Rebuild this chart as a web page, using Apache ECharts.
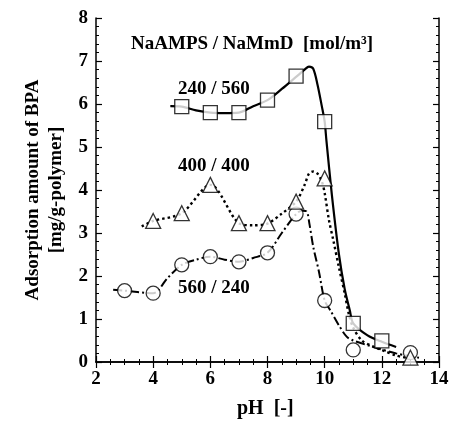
<!DOCTYPE html>
<html>
<head>
<meta charset="utf-8">
<script src="https://cdn.jsdelivr.net/npm/echarts@6/dist/echarts.min.js"></script>
<style>
html,body{margin:0;padding:0;background:#fff;}
#chart{width:454px;height:423px;}
</style>
</head>
<body>
<div id="chart"></div>
<script>
// Measured markers
var squarePts = [[5,5.94],[6,5.80],[7,5.80],[8,6.09],[9,6.65],[10,5.59],[11,0.90],[12,0.49]];
var trianglePts = [[4,3.28],[5,3.46],[6,4.12],[7,3.23],[8,3.23],[9,3.73],[10,4.27],[13,0.10]];
var circlePts = [[3,1.66],[4,1.60],[5,2.26],[6,2.45],[7,2.33],[8,2.54],[9,3.44],[10,1.43],[11,0.28],[13,0.22]];
// Curves
var squareCurve = [[4.6,5.95],[5,5.94],[5.5,5.85],[6,5.80],[6.5,5.79],[7,5.80],[7.5,5.95],[8,6.09],[8.5,6.35],[9,6.63],[9.3,6.8],[9.45,6.87],[9.6,6.82],[9.75,6.45],[9.9,5.95],[10,5.59],[10.06,5.16],[10.25,3.9],[10.5,2.5],[10.7,1.7],[10.88,1.2],[11,0.9],[11.5,0.62],[12,0.47],[12.5,0.35]];
var triangleCurve = [[3.6,3.15],[4,3.28],[5,3.46],[6,4.12],[7,3.23],[7.5,3.18],[8,3.22],[8.5,3.45],[9,3.73],[9.3,4.12],[9.45,4.38],[9.6,4.43],[9.75,4.38],[9.9,4.2],[10,3.93],[10.15,3.3],[10.3,2.84],[10.5,2.2],[10.7,1.6],[10.85,1.1],[11,0.8],[11.3,0.5],[11.7,0.36],[12,0.28],[12.5,0.15],[13,0.08]];
var circleCurve = [[2.6,1.68],[3,1.66],[4,1.60],[4.5,1.95],[5,2.26],[5.5,2.38],[6,2.45],[6.5,2.38],[7,2.33],[7.5,2.42],[8,2.54],[8.5,3.0],[9,3.44],[9.2,3.52],[9.37,3.5],[9.47,3.2],[9.6,2.68],[9.8,2.1],[10,1.43],[10.2,1.2],[10.5,0.85],[10.77,0.59],[11,0.5],[11.7,0.35],[12.5,0.2],[13.3,0.1]];
var xTicks = [2,4,6,8,10,12,14];
var yTicks = [0,1,2,3,4,5,6,7,8];

var F = 'Liberation Serif';
var chart = echarts.init(document.getElementById('chart'), null, {renderer:'canvas'});
var axisLineStyle = {show:true, lineStyle:{color:'#000', width:1.5}};
function xAx(pos, showLabel){
  return {type:'value', position:pos, min:2, max:14, interval:2,
    axisLine:axisLineStyle,
    axisTick:{show:true, inside:true, length:6, lineStyle:{color:'#000', width:1.2}},
    minorTick:{show:true, splitNumber:4, length:3, lineStyle:{color:'#000', width:1}},
    splitLine:{show:false},
    axisLabel:{show:showLabel, color:'#000', fontFamily:F, fontWeight:'bold', fontSize:19, margin:8}
  };
}
function yAx(pos, showLabel){
  return {type:'value', position:pos, min:0, max:8, interval:1,
    axisLine:axisLineStyle,
    axisTick:{show:true, inside:true, length:6, lineStyle:{color:'#000', width:1.2}},
    minorTick:{show:true, splitNumber:5, length:3, lineStyle:{color:'#000', width:1}},
    splitLine:{show:false},
    axisLabel:{show:showLabel, color:'#000', fontFamily:F, fontWeight:'bold', fontSize:19, margin:8}
  };
}
function lineSeries(data, type, width){
  return {type:'line', data:data, smooth:0.3, symbol:'none', xAxisIndex:0, yAxisIndex:0,
    lineStyle:{color:'#000', width:width, type:type}, z:2, animation:false};
}
function markSeries(data, sym, size){
  return {type:'scatter', data:data, symbol:sym, symbolSize:size, xAxisIndex:0, yAxisIndex:0,
    itemStyle:{color:'#fff', borderColor:'#000', borderWidth:1.3}, z:5, animation:false};
}
chart.setOption({
  animation:false,
  backgroundColor:'#fff',
  grid:{left:96, top:18, right:15, bottom:61, containLabel:false},
  xAxis:[xAx('bottom', true), xAx('top', false)],
  yAxis:[yAx('left', true), yAx('right', false)],
  series:[
    lineSeries(squareCurve, 'solid', 2.2),
    lineSeries(triangleCurve, [2.5,3], 2.4),
    lineSeries(circleCurve, [9,3,2,3], 2),
    markSeries(circlePts, 'circle', 14),
    markSeries(trianglePts, 'triangle', 15),
    markSeries(squarePts, 'rect', 14)
  ],
  graphic:[
    {type:'text', left:131, top:35, style:{text:'NaAMPS / NaMmD  [mol/m³]', font:'bold 19px "Liberation Serif"', fill:'#000'}},
    {type:'text', left:178, top:80, style:{text:'240 / 560', font:'bold 19px "Liberation Serif"', fill:'#000'}},
    {type:'text', left:178, top:157, style:{text:'400 / 400', font:'bold 19px "Liberation Serif"', fill:'#000'}},
    {type:'text', left:178, top:279, style:{text:'560 / 240', font:'bold 19px "Liberation Serif"', fill:'#000'}},
    {type:'text', left:237, top:399, style:{text:'pH  [-]', font:'bold 20px "Liberation Serif"', fill:'#000'}},
    {type:'text', x:33, y:190, rotation:Math.PI/2, style:{text:'Adsorption amount of BPA', font:'bold 19px "Liberation Serif"', fill:'#000', align:'center', verticalAlign:'middle'}},
    {type:'text', x:56, y:190, rotation:Math.PI/2, style:{text:'[mg/g-polymer]', font:'bold 19px "Liberation Serif"', fill:'#000', align:'center', verticalAlign:'middle'}}
  ]
});
</script>
</body>
</html>
